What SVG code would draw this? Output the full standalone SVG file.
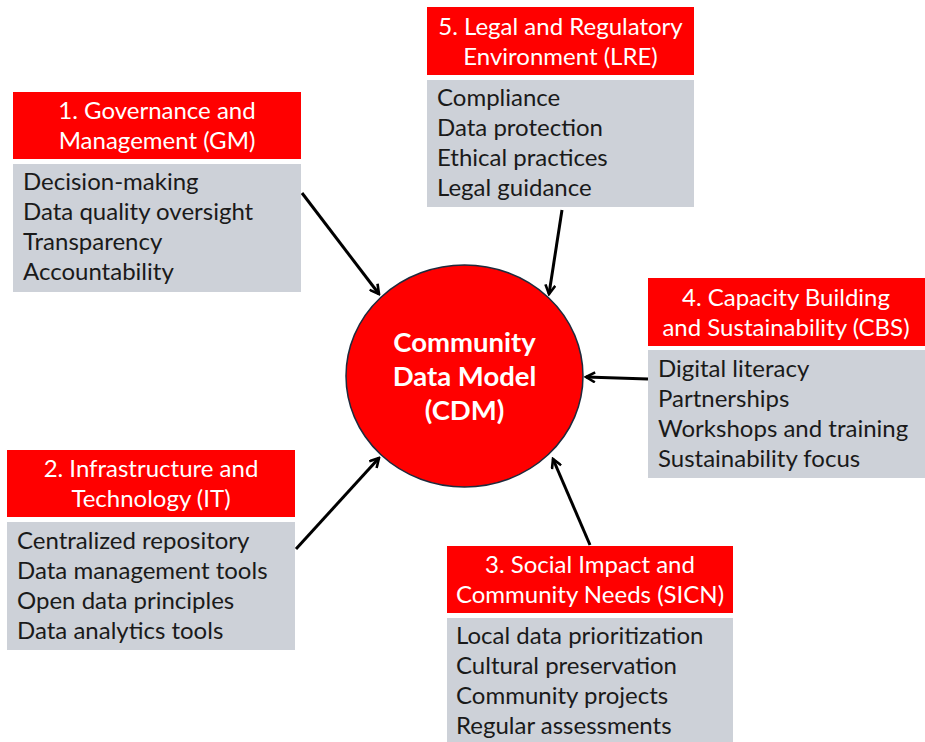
<svg xmlns="http://www.w3.org/2000/svg" width="925" height="742" viewBox="0 0 925 742">
<defs>
<style>
.hdr{fill:#FF0000}
.body{fill:#CDD1D8}
.ht{font-family:Lato,"Noto Sans",sans-serif;font-size:24px;fill:#FFFFFF;text-anchor:middle}
.bt{font-family:Lato,"Noto Sans",sans-serif;font-size:24px;fill:#1A1A1A}
.ct{font-family:Lato,"Noto Sans",sans-serif;font-size:27.5px;font-weight:bold;fill:#FFFFFF;text-anchor:middle}
.arr{stroke:#000;stroke-width:3;fill:none;marker-end:url(#ah)}
</style>
<marker id="ah" viewBox="0 0 12 12" refX="10" refY="6" markerWidth="12" markerHeight="12" markerUnits="userSpaceOnUse" orient="auto">
<path d="M1,1 L10,6 L1,11" fill="none" stroke="#000" stroke-width="2.6"/>
</marker>
</defs>
<rect width="925" height="742" fill="#FFFFFF"/>
<g id="connectors">
<line class="arr" x1="302" y1="193" x2="379" y2="294"/>
<line class="arr" x1="562" y1="210" x2="549" y2="294"/>
<line class="arr" x1="648" y1="379" x2="586" y2="377"/>
<line class="arr" x1="296" y1="549" x2="379" y2="458"/>
<line class="arr" x1="590" y1="545" x2="553" y2="459"/>
</g>
<g id="cdm">
<ellipse cx="464.5" cy="376" rx="118.5" ry="111" fill="#FF0000" stroke="#1F2A3C" stroke-width="1.5"/>
<text class="ct" x="464.5" y="352">Community</text>
<text class="ct" x="464.5" y="386">Data Model</text>
<text class="ct" x="464.5" y="420">(CDM)</text>
</g>
<g id="gm">
<rect class="hdr" x="13" y="92" width="288" height="67"/>
<text class="ht" x="157" y="119">1. Governance and</text>
<text class="ht" x="157" y="149">Management (GM)</text>
<rect class="body" x="13" y="164" width="288" height="128"/>
<text class="bt" x="23" y="190">Decision-making</text>
<text class="bt" x="23" y="220">Data quality oversight</text>
<text class="bt" x="23" y="250">Transparency</text>
<text class="bt" x="23" y="280">Accountability</text>
</g>
<g id="lre">
<rect class="hdr" x="427" y="7" width="267" height="68"/>
<text class="ht" x="560.5" y="35">5. Legal and Regulatory</text>
<text class="ht" x="560.5" y="65">Environment (LRE)</text>
<rect class="body" x="427" y="80" width="267" height="127"/>
<text class="bt" x="437" y="106">Compliance</text>
<text class="bt" x="437" y="136">Data protection</text>
<text class="bt" x="437" y="166">Ethical practices</text>
<text class="bt" x="437" y="196">Legal guidance</text>
</g>
<g id="cbs">
<rect class="hdr" x="648" y="278" width="277" height="68"/>
<text class="ht" x="786" y="306">4. Capacity Building</text>
<text class="ht" x="786" y="336">and Sustainability (CBS)</text>
<rect class="body" x="648" y="350" width="277" height="128"/>
<text class="bt" x="658" y="377">Digital literacy</text>
<text class="bt" x="658" y="407">Partnerships</text>
<text class="bt" x="658" y="437">Workshops and training</text>
<text class="bt" x="658" y="467">Sustainability focus</text>
</g>
<g id="it">
<rect class="hdr" x="7" y="450" width="288" height="67"/>
<text class="ht" x="151" y="477">2. Infrastructure and</text>
<text class="ht" x="151" y="507">Technology (IT)</text>
<rect class="body" x="7" y="522" width="288" height="128"/>
<text class="bt" x="17" y="549">Centralized repository</text>
<text class="bt" x="17" y="579">Data management tools</text>
<text class="bt" x="17" y="609">Open data principles</text>
<text class="bt" x="17" y="639">Data analytics tools</text>
</g>
<g id="sicn">
<rect class="hdr" x="447" y="546" width="286" height="67"/>
<text class="ht" x="590" y="573">3. Social Impact and</text>
<text class="ht" x="590" y="603">Community Needs (SICN)</text>
<rect class="body" x="447" y="618" width="286" height="124"/>
<text class="bt" x="456" y="644">Local data prioritization</text>
<text class="bt" x="456" y="674">Cultural preservation</text>
<text class="bt" x="456" y="704">Community projects</text>
<text class="bt" x="456" y="734">Regular assessments</text>
</g>
</svg>
